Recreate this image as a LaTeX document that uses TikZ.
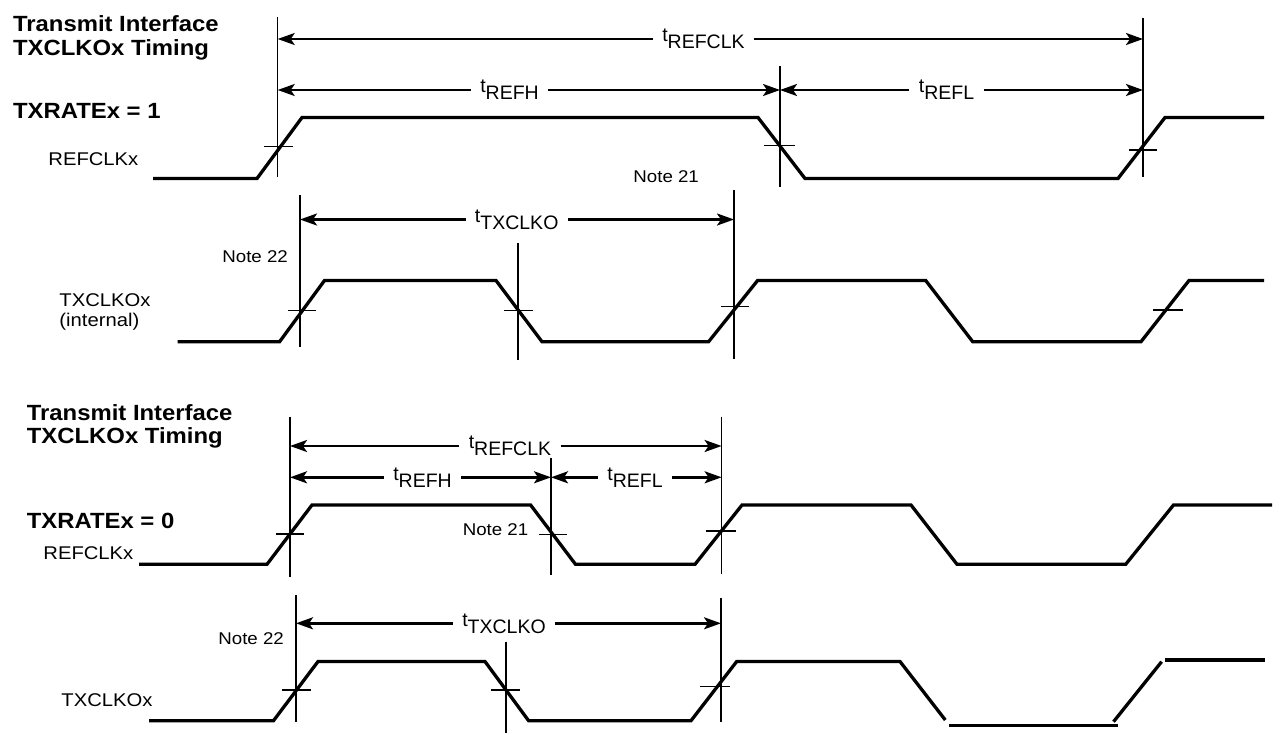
\documentclass[tikz,border=0pt]{standalone}
\usepackage{fontspec}
\setmainfont{Liberation Sans}
\newfontfamily\sigfont[FakeStretch=1.1]{Liberation Sans}
\newfontfamily\ttlfont[FakeStretch=1.085]{Liberation Sans}
\usepackage{tikz}
\usetikzlibrary{arrows.meta}
\newcommand{\tlbl}[1]{t\raisebox{-3.5pt}{#1}}

\begin{document}
\begin{tikzpicture}[x=0.5pt,y=-0.5pt,
            sig/.style={line width=1.65pt},
            ref/.style={line width=0.65pt},
            tck/.style={line width=0.7pt},
            dim/.style={line width=1.2pt, -{Stealth[length=8.5pt,width=6pt,inset=2pt]}},
            tlab/.style={inner xsep=4.5pt, inner ysep=0pt, font=\fontsize{9.75}{11}\selectfont},
            lbl/.style={anchor=base west, inner sep=0pt, align=left, font=\sigfont\fontsize{9.2}{9.6}\selectfont},
            note/.style={anchor=base west, inner sep=0pt, font=\sigfont\fontsize{8.5}{10}\selectfont},
            ttl/.style={anchor=base west, inner sep=0pt, font=\ttlfont\bfseries\fontsize{11}{11.7}\selectfont}]
        \path[use as bounding box, fill=white] (0,0) rectangle (1280,734);

        % TXRATEx = 1
        \node[ttl] (ttla) at (12.7,31.7) {Transmit Interface};
        \node[ttl] (ttlb) at (12.7,55) {TXCLKOx Timing};
        \node[ttl] (rate1) at (12.7,118) {TXRATEx = 1};
        \node[lbl] (refclk) at (48,165) {REFCLKx};
        \node[lbl] (txclko) at (59,326) {TXCLKOx\\(internal)};
        \node[note] (nta) at (633,182) {Note 21};
        \node[note] (ntb) at (222,262.7) {Note 22};

        \draw[sig] (153,178.5) -- (257,178.5) -- (302,117.5) -- (758,117.5) -- (805,178.5)
            -- (1118,178.5) -- (1165,117.5) -- (1264,117.5);
        \draw[sig] (177.5,341.7) -- (279.6,341.7) -- (324.5,280.5) -- (496,280.5) -- (542,341.7)
            -- (708.6,341.7) -- (757.6,280.5) -- (925.7,280.5) -- (972.7,341.7) -- (1141,341.7)
            -- (1189,280.5) -- (1264,280.5);

        \draw[ref] (277.7,17) -- (277.7,177);
        \draw[ref] (780,66) -- (780,187);
        \draw[ref] (1143,18) -- (1143,177);
        \draw[ref] (300,195) -- (300,347);
        \draw[ref] (518,243) -- (518,360);
        \draw[ref] (734,190) -- (734,359);

        \draw[tck] (264,146.7) -- (293,146.7);
        \draw[tck] (764,145.7) -- (795,145.7);
        \draw[tck] (1129,150) -- (1157,150);
        \draw[tck] (288,310.7) -- (316,310.7);
        \draw[tck] (504,310.7) -- (533,310.7);
        \draw[tck] (721,306.7) -- (749,306.7);
        \draw[tck] (1153,310) -- (1183,310);

        \coordinate (rc1) at (277.7,39);
        \coordinate (rc2) at (1143,39);
        \coordinate (rh1) at (277.7,90);
        \coordinate (rh2) at (780,90);
        \coordinate (rl2) at (1143,90);
        \coordinate (tx1) at (300,219.5);
        \coordinate (tx2) at (734,219.5);
        \node[tlab] (trefclk) at (703.5,39) {\tlbl{REFCLK}};
        \node[tlab] (trefh) at (509.5,90) {\tlbl{REFH}};
        \node[tlab] (trefl) at (946.5,90) {\tlbl{REFL}};
        \node[tlab] (ttxclko) at (516.7,219.5) {\tlbl{TXCLKO}};
        \draw[dim] (trefclk) -- (rc1);
        \draw[dim] (trefclk) -- (rc2);
        \draw[dim] (trefh) -- (rh1);
        \draw[dim] (trefh) -- (rh2);
        \draw[dim] (trefl) -- (rh2);
        \draw[dim] (trefl) -- (rl2);
        \draw[dim] (ttxclko) -- (tx1);
        \draw[dim] (ttxclko) -- (tx2);

        % TXRATEx = 0
        \node[ttl] (ttlc) at (26.5,420) {Transmit Interface};
        \node[ttl] (ttld) at (26.5,443) {TXCLKOx Timing};
        \node[ttl] (rate0) at (26.5,528) {TXRATEx = 0};
        \node[lbl] (brefclk) at (43,559) {REFCLKx};
        \node[lbl] (btxclko) at (61,706) {TXCLKOx};
        \node[note] (ntc) at (462.4,535.7) {Note 21};
        \node[note] (ntd) at (218,644) {Note 22};

        \draw[sig] (139,564.3) -- (267,564.3) -- (312,505) -- (530.6,505) -- (575.5,564.3)
            -- (695,564.3) -- (742,505) -- (911,505) -- (957,564.3) -- (1125.7,564.3)
            -- (1173.5,505) -- (1272,505);
        \draw[sig] (149,720.7) -- (273.5,720.7) -- (318,661.5) -- (485,661.5) -- (528.6,720.7)
            -- (691,720.7) -- (736.7,661.5) -- (900,661.5) -- (945.3,720);
        \draw[sig] (949,725.7) -- (1118,725.7);
        \draw[sig] (1113.5,721.7) -- (1161.6,661.7);
        \draw[sig] (1165,660) -- (1264.5,660);

        \draw[ref] (290,416.7) -- (290,576.7);
        \draw[ref] (551,458) -- (551,575);
        \draw[ref] (721.6,416.7) -- (721.6,574);
        \draw[ref] (296,595) -- (296,721.7);
        \draw[ref] (506,641.7) -- (506,733);
        \draw[ref] (721,598) -- (721,721.7);

        \draw[tck] (275.5,534) -- (304,534);
        \draw[tck] (539,534.7) -- (567,534.7);
        \draw[tck] (706,531) -- (736,531);
        \draw[tck] (281.6,690) -- (311,690);
        \draw[tck] (491,690) -- (520,690);
        \draw[tck] (700,686.7) -- (730,686.7);

        \coordinate (brc1) at (290,446);
        \coordinate (brc2) at (721.6,446);
        \coordinate (brh1) at (290,477.3);
        \coordinate (brh2) at (551,477.3);
        \coordinate (brl2) at (721.6,477.3);
        \coordinate (btx1) at (296,623.3);
        \coordinate (btx2) at (721,623.3);
        \node[tlab] (btrefclk) at (510,446) {\tlbl{REFCLK}};
        \node[tlab] (btrefh) at (422.5,477.3) {\tlbl{REFH}};
        \node[tlab] (btrefl) at (635,477.3) {\tlbl{REFL}};
        \node[tlab] (btxclkot) at (504,623.3) {\tlbl{TXCLKO}};
        \draw[dim] (btrefclk) -- (brc1);
        \draw[dim] (btrefclk) -- (brc2);
        \draw[dim] (btrefh) -- (brh1);
        \draw[dim] (btrefh) -- (brh2);
        \draw[dim] (btrefl) -- (brh2);
        \draw[dim] (btrefl) -- (brl2);
        \draw[dim] (btxclkot) -- (btx1);
        \draw[dim] (btxclkot) -- (btx2);
\end{tikzpicture}
\end{document}
